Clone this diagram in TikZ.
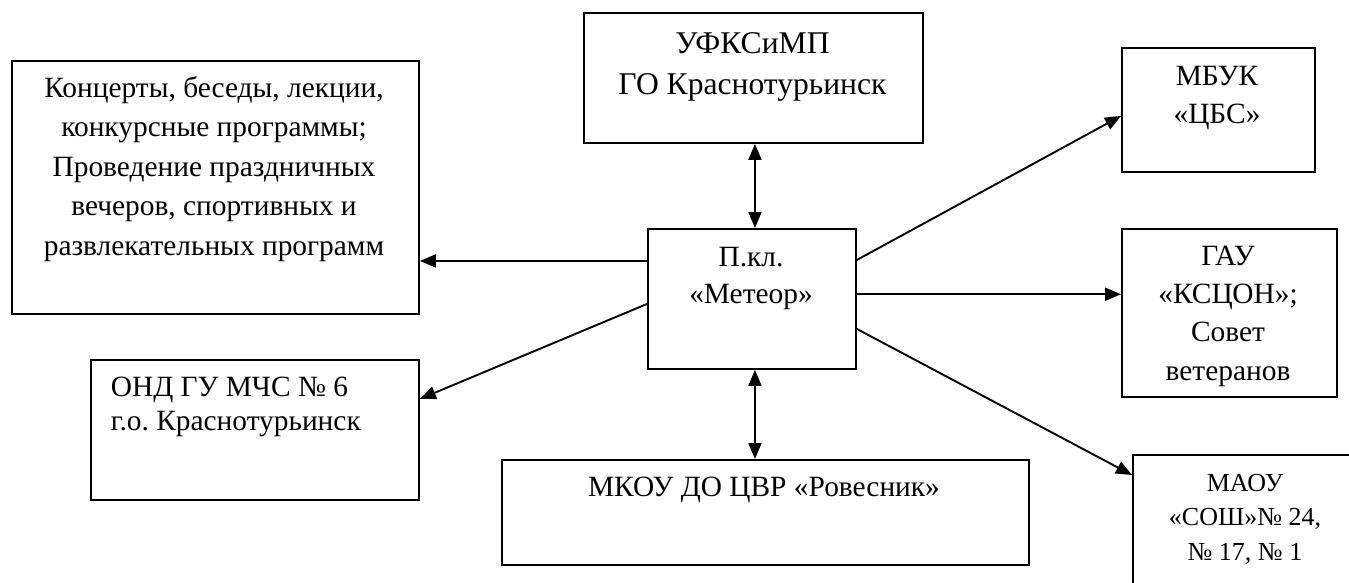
\documentclass[tikz,border=0pt]{standalone}
\usepackage{fontspec}
\setmainfont{Liberation Serif}
\usetikzlibrary{arrows.meta}
\frenchspacing
\begin{document}
\begin{tikzpicture}[x=1pt,y=-1pt,
  box/.style={draw,line width=1.9pt,inner sep=0pt,anchor=north west},
  txt/.style={inner sep=0pt,align=center,anchor=base,font=\fontsize{29.4}{39.5}\selectfont},
  arr/.style={line width=1.9pt,-{Triangle[length=16pt,width=13pt]}},
  darr/.style={line width=1.9pt,{Triangle[length=16pt,width=13pt]}-{Triangle[length=16pt,width=13pt]}}]
\useasboundingbox (0,0) rectangle (1349,582);
\begin{scope}
\clip (0,0) rectangle (1349,582);
% boxes
\node[box,minimum width=407pt,minimum height=253pt] (act) at (11,60) {};
\node[box,minimum width=339pt,minimum height=130pt] (ufk) at (583,12) {};
\node[box,minimum width=208pt,minimum height=140pt] (met) at (647,228) {};
\node[box,minimum width=193pt,minimum height=124pt] (mbuk) at (1121,47) {};
\node[box,minimum width=215pt,minimum height=168pt] (gau) at (1121,228) {};
\node[box,minimum width=240pt,minimum height=160pt] (maou) at (1132,454) {};
\node[box,minimum width=328pt,minimum height=140pt] (ond) at (90,359) {};
\node[box,minimum width=527pt,minimum height=105pt] (mkou) at (501,459) {};
\end{scope}
% texts
\node[txt] (tact) at (214,255) {Концерты, беседы, лекции,\\конкурсные программы;\\Проведение праздничных\\вечеров, спортивных и\\развлекательных программ};
\node[txt,font=\fontsize{31.6}{40.7}\selectfont] (tufk) at (752.5,94) {УФКСиМП\\ГО Краснотурьинск};
\node[txt,font=\fontsize{29.4}{36.5}\selectfont] (tmet) at (751,303) {П.кл.\\«Метеор»};
\node[txt,font=\fontsize{29.4}{38}\selectfont] (tmbuk) at (1217,123) {МБУК\\«ЦБС»};
\node[txt,font=\fontsize{29.4}{38.3}\selectfont] (tgau) at (1228,380) {ГАУ\\«КСЦОН»;\\Совет\\ветеранов};
\node[txt,align=left,anchor=base west,font=\fontsize{29.4}{34}\selectfont] (tond) at (110.6,430) {ОНД ГУ МЧС № 6\\г.о. Краснотурьинск};
\node[txt] (tmkou) at (764,496.7) {МКОУ ДО ЦВР «Ровесник»};
\node[txt,font=\fontsize{26}{34.2}\selectfont] (tmaou) at (1245,560) {МАОУ\\«СОШ»№ 24,\\№ 17, № 1};
% connectors
\draw[arr] ([yshift=38pt]met.west) -- ([yshift=38pt]met.west -| act.east);
\draw[arr] ([yshift=-5pt]met.west) -- ([yshift=31pt]ond.east);
\draw[arr] ([yshift=39pt]met.east) -- ([yshift=-6pt]mbuk.west);
\draw[arr] ([yshift=4.7pt]met.east) -- ([yshift=4.7pt]met.east -| gau.west);
\draw[arr] ([yshift=-30pt]met.east) -- ([yshift=-21pt]maou.north west);
\draw[darr] ([xshift=1.5pt]ufk.south) -- ([xshift=1.5pt]ufk.south |- met.north);
\draw[darr] ([xshift=1.5pt]ufk.south |- met.south) -- ([xshift=1.5pt]ufk.south |- mkou.north);
\end{tikzpicture}
\end{document}
